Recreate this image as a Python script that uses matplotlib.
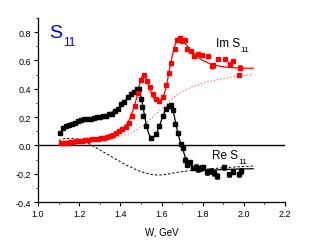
import numpy as np
import matplotlib
matplotlib.use("Agg")
import matplotlib.pyplot as plt
from matplotlib.ticker import MultipleLocator

plt.rcParams["font.family"] = ["Liberation Sans", "DejaVu Sans"]

# ─── Data ────────────────────────────────────────────────────────────
# Re S11 data points
re_w = [1.105, 1.12, 1.135, 1.15, 1.165, 1.18, 1.195, 1.21, 1.225, 1.24, 1.255,
        1.27, 1.285, 1.30, 1.315, 1.33, 1.345, 1.36, 1.375, 1.39, 1.405, 1.42,
        1.435, 1.45, 1.465, 1.48, 1.49, 1.50, 1.505, 1.51, 1.525, 1.55, 1.575,
        1.59, 1.605, 1.62, 1.635, 1.645, 1.655, 1.665, 1.68, 1.695, 1.705,
        1.715, 1.725, 1.74, 1.755, 1.765, 1.775, 1.79, 1.80, 1.82, 1.84, 1.855,
        1.87, 1.905, 1.93, 1.945, 1.975, 1.985]
re_val = [0.09, 0.12, 0.135, 0.145, 0.15, 0.16, 0.175, 0.18, 0.185, 0.19, 0.19,
          0.195, 0.198, 0.20, 0.205, 0.21, 0.22, 0.225, 0.245, 0.26, 0.29, 0.31,
          0.34, 0.36, 0.375, 0.395, 0.40, 0.33, 0.27, 0.21, 0.14, 0.055, 0.08,
          0.135, 0.205, 0.26, 0.28, 0.285, 0.25, 0.15, 0.085, 0.01, -0.02,
          -0.10, -0.135, -0.12, -0.16, -0.15, -0.165, -0.16, -0.155, -0.19, -0.18,
          -0.195, -0.215, -0.155, -0.205, -0.185, -0.205, -0.18]
re_err = [0.005] * 31 + [0.01] * 10 + [0.015] * 6 + [0.02] * 13

# Im S11 data points
im_w = [1.11, 1.125, 1.14, 1.155, 1.17, 1.185, 1.20, 1.215, 1.23, 1.245, 1.26,
        1.275, 1.29, 1.305, 1.32, 1.335, 1.35, 1.365, 1.38, 1.395, 1.41, 1.425,
        1.44, 1.455, 1.47, 1.485, 1.50, 1.515, 1.53, 1.545, 1.56, 1.575, 1.59,
        1.605, 1.62, 1.635, 1.645, 1.665, 1.675, 1.69, 1.70, 1.712, 1.725,
        1.745, 1.76, 1.778, 1.795, 1.827, 1.843, 1.852, 1.875, 1.908, 1.932,
        1.945, 1.975, 1.98]
im_val = [0.015, 0.02, 0.02, 0.025, 0.025, 0.028, 0.03, 0.032, 0.035, 0.04, 0.042,
          0.045, 0.048, 0.05, 0.052, 0.058, 0.065, 0.075, 0.085, 0.10, 0.113, 0.128,
          0.16, 0.205, 0.275, 0.37, 0.46, 0.50, 0.455, 0.41, 0.36, 0.325, 0.315,
          0.345, 0.43, 0.51, 0.585, 0.68, 0.745, 0.76, 0.74, 0.745, 0.68,
          0.665, 0.63, 0.645, 0.64, 0.63, 0.56, 0.565, 0.61, 0.61, 0.575,
          0.595, 0.50, 0.55]
im_err = [0.005] * 30 + [0.01] * 9 + [0.015] * 17

# Fit curves
re_fit_w = [1.10, 1.12, 1.14, 1.16, 1.18, 1.20, 1.22, 1.24, 1.26, 1.28, 1.30, 1.32,
            1.34, 1.36, 1.38, 1.40, 1.42, 1.44, 1.46, 1.47, 1.48, 1.49, 1.50, 1.51,
            1.52, 1.53, 1.54, 1.55, 1.56, 1.57, 1.58, 1.59, 1.60, 1.61, 1.62, 1.63,
            1.64, 1.65, 1.66, 1.67, 1.68, 1.69, 1.70, 1.71, 1.72, 1.73, 1.74, 1.76,
            1.78, 1.80, 1.85, 1.90, 1.95, 2.00, 2.045]
re_fit = [0.08, 0.11, 0.13, 0.15, 0.16, 0.17, 0.175, 0.18, 0.185, 0.19, 0.20, 0.21,
          0.22, 0.235, 0.25, 0.28, 0.31, 0.345, 0.375, 0.39, 0.40, 0.395, 0.35, 0.27,
          0.19, 0.12, 0.075, 0.055, 0.055, 0.07, 0.10, 0.14, 0.18, 0.22, 0.255, 0.28,
          0.29, 0.27, 0.22, 0.15, 0.08, 0.03, -0.01, -0.06, -0.10, -0.125, -0.14, -0.155,
          -0.163, -0.17, -0.174, -0.171, -0.168, -0.166, -0.165]

im_fit_w = [1.10, 1.12, 1.14, 1.16, 1.20, 1.24, 1.28, 1.32, 1.36, 1.38, 1.40, 1.42,
            1.44, 1.46, 1.48, 1.49, 1.50, 1.51, 1.52, 1.53, 1.54, 1.55, 1.56, 1.57,
            1.58, 1.59, 1.60, 1.61, 1.62, 1.63, 1.64, 1.65, 1.66, 1.67, 1.68, 1.69,
            1.70, 1.72, 1.74, 1.76, 1.78, 1.80, 1.84, 1.88, 1.92, 1.96, 2.00, 2.045]
im_fit = [0.0, 0.01, 0.015, 0.02, 0.025, 0.032, 0.04, 0.05, 0.065, 0.08, 0.10, 0.13,
          0.17, 0.24, 0.34, 0.41, 0.47, 0.50, 0.49, 0.45, 0.41, 0.37, 0.34, 0.32,
          0.31, 0.31, 0.32, 0.35, 0.40, 0.47, 0.55, 0.62, 0.68, 0.73, 0.76, 0.765,
          0.75, 0.71, 0.675, 0.645, 0.62, 0.60, 0.575, 0.56, 0.552, 0.548, 0.546, 0.545]

# Background (non-resonant) curves
re_bg_w = [1.10, 1.13, 1.16, 1.19, 1.22, 1.25, 1.28, 1.31, 1.34, 1.37, 1.40, 1.43,
           1.46, 1.49, 1.52, 1.55, 1.58, 1.61, 1.64, 1.67, 1.70, 1.75, 1.80, 1.85,
           1.90, 1.95, 2.00, 2.045]
re_bg = [0.035, 0.048, 0.05, 0.045, 0.03, 0.01, -0.015, -0.04, -0.065, -0.09, -0.115, -0.14,
         -0.16, -0.18, -0.195, -0.205, -0.21, -0.208, -0.20, -0.192, -0.185, -0.177, -0.17, -0.164,
         -0.158, -0.153, -0.149, -0.146]

im_bg_w = [1.10, 1.15, 1.20, 1.25, 1.30, 1.35, 1.40, 1.45, 1.50, 1.55, 1.60, 1.65,
           1.70, 1.75, 1.80, 1.85, 1.90, 1.95, 2.00, 2.045]
im_bg = [0.005, 0.01, 0.018, 0.027, 0.037, 0.05, 0.065, 0.085, 0.13, 0.19, 0.26, 0.33,
         0.38, 0.415, 0.44, 0.458, 0.473, 0.485, 0.494, 0.50]

X_TICKS = [1.0, 1.2, 1.4, 1.6, 1.8, 2.0, 2.2]
Y_TICKS = [-0.4, -0.2, 0.0, 0.2, 0.4, 0.6, 0.8]
RED = "#ff0000"


def label_with_sub(ax, x, y, main, sub, color, size, sub_size, dx, dy):
    """Origin-style label: main text plus a dropped subscript."""
    ax.text(x, y, main, color=color, fontsize=size)
    ax.annotate(sub, xy=(x, y), xytext=(dx, dy), textcoords="offset points",
                color=color, fontsize=sub_size, ha="left", va="baseline")


def main():
    fig = plt.figure(figsize=(3.10, 2.51), dpi=100)
    ax = fig.add_axes([0.1226, 0.1912, 0.797, 0.733])

    ax.axhline(0, color="black", linewidth=1.0, zorder=1)

    # background curves
    ax.plot(re_bg_w, re_bg, color="black", linewidth=0.7, linestyle=(0, (2.5, 2)))
    ax.plot(im_bg_w, im_bg, color=RED, linewidth=0.8, linestyle=(0, (1, 2)), alpha=0.7)

    # fits
    ax.plot(re_fit_w, re_fit, color="black", linewidth=0.9)
    ax.plot(im_fit_w, im_fit, color=RED, linewidth=0.9)

    # data
    ax.errorbar(re_w, re_val, yerr=re_err, fmt="s", color="black", markersize=2.3,
                elinewidth=0.5, capsize=1.2, capthick=0.5)
    ax.errorbar(im_w, im_val, yerr=im_err, fmt="s", color=RED, markersize=2.3,
                elinewidth=0.5, capsize=1.2, capthick=0.5)

    ax.set_xlim(1.0, 2.2)
    ax.set_ylim(-0.4, 0.9)
    ax.set_xticks(X_TICKS)
    ax.set_yticks(Y_TICKS)
    ax.set_xticklabels([f"{t:.1f}" for t in X_TICKS])
    ax.set_yticklabels([f"{t:.1f}" for t in Y_TICKS])
    ax.xaxis.set_minor_locator(MultipleLocator(0.1))
    ax.yaxis.set_minor_locator(MultipleLocator(0.1))
    ax.tick_params(which="major", direction="out", length=3, width=0.8, labelsize=6.5, pad=2)
    ax.tick_params(which="minor", direction="out", length=1.5, width=0.6)

    for side in ["top", "right"]:
        ax.spines[side].set_visible(False)
    for side in ["left", "bottom"]:
        ax.spines[side].set_linewidth(0.9)

    ax.set_xlabel("W, GeV", fontsize=7, labelpad=6)

    label_with_sub(ax, 1.053, 0.763, "S", "11", "#0000ff", 14, 8.5, 10.5, -5.5)
    label_with_sub(ax, 1.864, 0.70, "Im S", "11", "black", 8.5, 6, 17.4, -3.2)
    label_with_sub(ax, 1.845, -0.092, "Re S", "11", "black", 8.5, 6, 18.8, -3.2)

    fig.savefig("out.png", dpi=100)
    plt.close(fig)


if __name__ == "__main__":
    main()
